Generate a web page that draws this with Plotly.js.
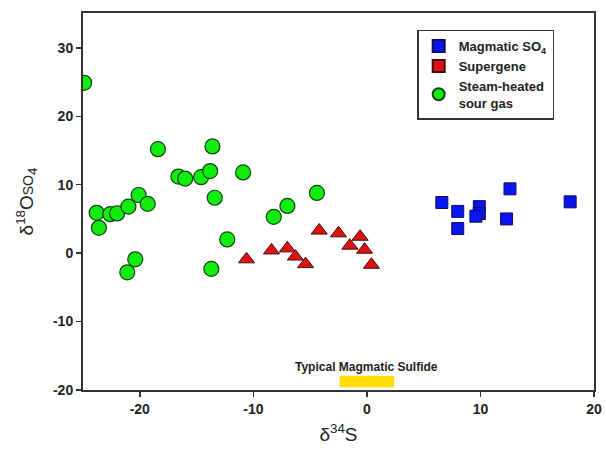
<!DOCTYPE html>
<html>
<head>
<meta charset="utf-8">
<script src="https://cdn.plot.ly/plotly-3.0.1.min.js"></script>
<style>html,body{margin:0;padding:0;background:#fff;}#chart{width:606px;height:458px;}</style>
</head>
<body>
<div id="chart"></div>
<script>
// Magmatic SO4
const magX = [6.6, 8.0, 8.0, 9.9, 9.9, 9.6, 12.6, 12.3, 17.9];
const magY = [7.4, 6.1, 3.6, 6.8, 5.8, 5.4, 9.4, 5.0, 7.5];
// Supergene
const supX = [-10.6, -8.4, -7.0, -6.3, -5.4, -4.2, -2.5, -1.5, -0.6, -0.2, 0.4];
const supY = [-0.9, 0.4, 0.7, -0.5, -1.6, 3.3, 2.9, 1.1, 2.4, 0.5, -1.7];
// Steam-heated sour gas
const steamX = [-24.9, -23.8, -23.6, -22.6, -22.0, -21.0, -20.1, -19.3, -18.4, -16.6, -16.0, -14.6, -13.8, -13.6, -13.4, -10.9, -12.3, -13.7, -20.4, -21.1, -8.2, -7.0, -4.4];
const steamY = [24.9, 5.9, 3.7, 5.7, 5.8, 6.8, 8.5, 7.2, 15.2, 11.2, 10.9, 11.1, 12.0, 15.6, 8.1, 11.8, 2.0, -2.3, -0.9, -2.8, 5.3, 6.9, 8.8];
// Typical magmatic sulfide range
const sulfideX = [-2.4, 2.4];
const sulfideY = [-19.6, -17.9];
const xTicks = [-20, -10, 0, 10, 20];
const xTickText = ['-20', '-10', '0', '10', '20'];
const yTicks = [-20, -10, 0, 10, 20, 30];
const yTickText = ['-20', '-10', '0', '10', '20', '30'];

const FONT = "Liberation Sans, Arial, sans-serif";

const traces = [
  {x: magX, y: magY, mode: 'markers', type: 'scatter', name: 'Magmatic SO<sub>4</sub>',
   marker: {symbol: 'square', size: 12, color: '#0a14f0', line: {color: '#101060', width: 1}}},
  {x: supX, y: supY, mode: 'markers', type: 'scatter', name: 'Supergene', showlegend: false,
   marker: {symbol: 'triangle-up', size: 14, color: '#e01010', line: {color: '#401010', width: 1}}},
  // legend entry for Supergene (drawn as a square in the reference legend)
  {x: [null], y: [null], mode: 'markers', type: 'scatter', name: 'Supergene',
   marker: {symbol: 'square', size: 12, color: '#e01010', line: {color: '#401010', width: 1}}},
  {x: steamX, y: steamY, mode: 'markers', type: 'scatter', name: 'Steam-heated<br>sour gas',
   marker: {symbol: 'circle', size: 15, color: '#10ee10', line: {color: '#104010', width: 1.2}}}
];

const axisCommon = {
  showgrid: false, zeroline: false, showline: true, linecolor: '#333', linewidth: 2,
  mirror: true, ticks: 'outside', ticklen: 5, tickwidth: 1.5, tickcolor: '#333',
  tickmode: 'array',
  tickfont: {family: FONT, size: 14, color: '#222', weight: 'bold'}
};

const layout = {
  width: 606, height: 458,
  margin: {l: 83, r: 12, t: 13, b: 68},
  paper_bgcolor: '#fff', plot_bgcolor: '#fff',
  showlegend: true,
  legend: {x: 0.654, y: 0.956, xanchor: 'left', yanchor: 'top',
    bgcolor: '#fff', bordercolor: '#333', borderwidth: 1.5,
    font: {family: FONT, size: 13, color: '#222', weight: 'bold'},
    tracegroupgap: 0, itemsizing: 'constant'},
  xaxis: Object.assign({}, axisCommon, {range: [-25, 20], tickvals: xTicks, ticktext: xTickText,
    title: {text: 'δ<sup>34</sup>S', font: {family: FONT, size: 19, color: '#222'}, standoff: 12}}),
  yaxis: Object.assign({}, axisCommon, {range: [-20, 35.1], tickvals: yTicks, ticktext: yTickText,
    title: {text: 'δ<sup>18</sup>O<span style="font-size:14px">SO</span><sub>4</sub>', font: {family: FONT, size: 19, color: '#222'}, standoff: 14}}),
  shapes: [{type: 'rect', xref: 'x', yref: 'y', x0: sulfideX[0], x1: sulfideX[1], y0: sulfideY[0], y1: sulfideY[1],
    fillcolor: '#ffdd00', line: {width: 0}}],
  annotations: [{x: 0, y: -16.6, xref: 'x', yref: 'y', text: 'Typical Magmatic Sulfide', showarrow: false,
    font: {family: FONT, size: 12, color: '#222', weight: 'bold'}}]
};

Plotly.newPlot('chart', traces, layout, {displayModeBar: false, staticPlot: true});
</script>
</body>
</html>
